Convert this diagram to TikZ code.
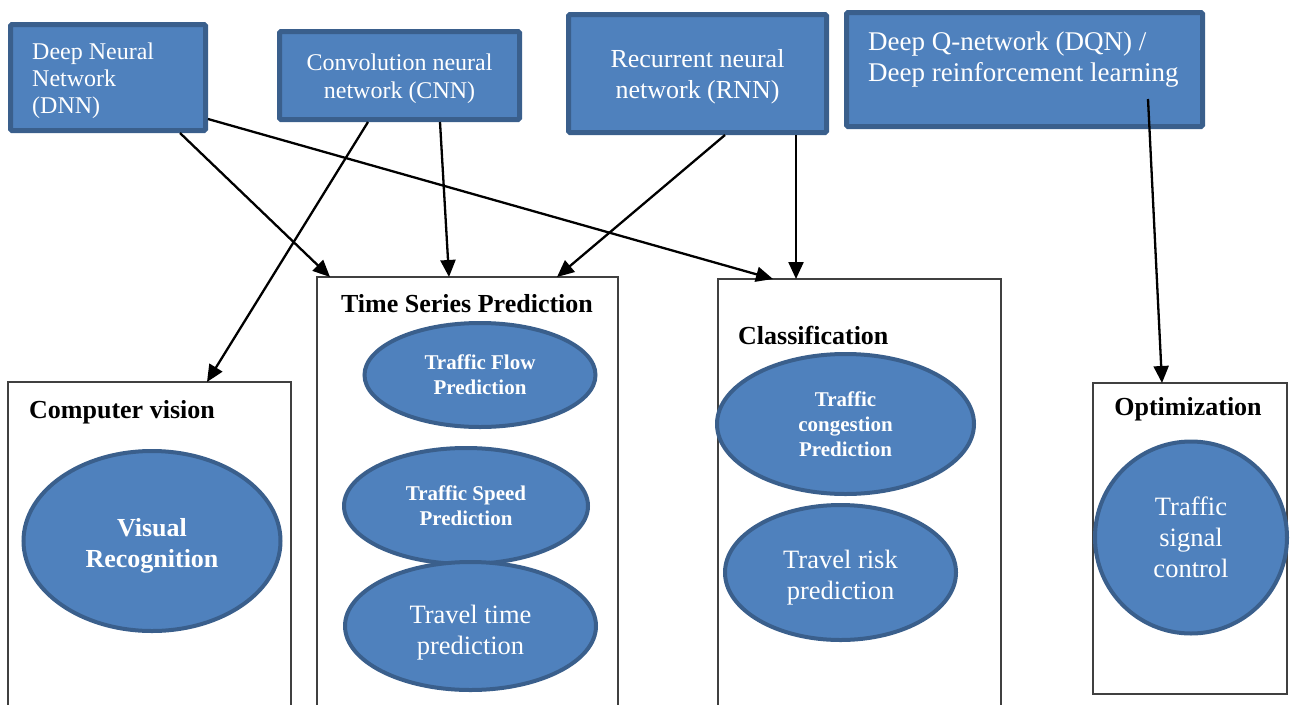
\documentclass[tikz,border=0pt]{standalone}
\usepackage{fontspec}
\setmainfont{Liberation Serif}
\usetikzlibrary{shapes.geometric,arrows.meta,calc}

\definecolor{nnfill}{HTML}{4F81BD}
\definecolor{nnedge}{HTML}{3A5F8C}
\definecolor{arealine}{HTML}{404040}

\begin{document}
\begin{tikzpicture}[x=1pt,y=-1pt,
  netbox/.style={rectangle, draw=nnedge, fill=nnfill, line width=5pt,
    rounded corners=1.5pt, text=white, inner sep=0pt, align=center},
  nettext/.style={text=white, inner sep=0pt, align=left},
  task/.style={ellipse, draw=nnedge, fill=nnfill, line width=4pt,
    text=white, inner sep=0pt, align=center},
  area/.style={rectangle, draw=arealine, line width=1.3pt, outer sep=0pt, inner sep=0pt},
  areatitle/.style={font=\fontsize{26}{30}\selectfont\bfseries, inner sep=0pt},
  boldtask/.style={font=\fontsize{21}{25}\selectfont\bfseries},
  bigboldtask/.style={font=\fontsize{26}{31}\selectfont\bfseries},
  plaintask/.style={font=\fontsize{26.5}{31}\selectfont},
  link/.style={line width=2.3pt, -{Triangle[length=17pt,width=15pt]}}
]
\useasboundingbox (0,0) rectangle (1295,704);

% application areas (open at the bottom of the page)
\node[area, minimum width=283pt, minimum height=340pt] (cv)  at (149.5,552) {};
\node[area, minimum width=301pt, minimum height=440pt] (ts)  at (467.5,497) {};
\node[area, minimum width=283pt, minimum height=440pt] (cls) at (859.5,499) {};
\node[area, minimum width=194pt, minimum height=311pt] (opt) at (1190,538.5) {};

\node[areatitle, anchor=base west] (cvtitle)  at (29,418)   {Computer vision};
\node[areatitle, anchor=base]      (tstitle)  at (467,312)  {Time Series Prediction};
\node[areatitle, anchor=base west] (clstitle) at (738,344)  {Classification};
\node[areatitle, anchor=base]      (opttitle) at (1188,415) {Optimization};

% tasks
\node[task, bigboldtask, text height=58pt, minimum width=257pt, minimum height=180pt] (visual) at (152,541) {Visual\\Recognition};
\node[task, boldtask, minimum width=231pt, minimum height=104pt] (flow) at (480,375) {Traffic Flow\\Prediction};
\node[task, boldtask, minimum width=244pt, minimum height=116pt] (speed) at (466,506) {Traffic Speed\\Prediction};
\node[task, plaintask, text height=62pt, minimum width=251pt, minimum height=128pt] (ttime) at (470.5,626) {Travel time\\prediction};
\node[task, boldtask, minimum width=257pt, minimum height=140pt] (cong) at (845.5,424) {Traffic\\congestion\\Prediction};
\node[task, plaintask, text height=59pt, minimum width=231pt, minimum height=135pt] (risk) at (840.5,572.5) {Travel risk\\prediction};
\node[task, plaintask, circle, minimum size=192pt] (signal) at (1191,537.5) {Traffic\\signal\\control};

% network families
\node[netbox, minimum width=195pt, minimum height=106pt] (dnn) at (108,77.5) {};
\node[nettext, font=\fontsize{24}{27}\selectfont, anchor=base west] (dnntext) at (32,113)
  {Deep Neural\\Network\\(DNN)};
\node[netbox, minimum width=240pt, minimum height=88pt, text height=50.5pt,
  font=\fontsize{24}{28}\selectfont] (cnn) at (399.5,75.5)
  {Convolution neural\\network (CNN)};
\node[netbox, minimum width=258pt, minimum height=118pt, text height=55pt,
  font=\fontsize{26}{31}\selectfont] (rnn) at (697.5,73.5)
  {Recurrent neural\\network (RNN)};
\node[netbox, minimum width=356pt, minimum height=114pt] (dqn) at (1024.5,69.5) {};
\node[nettext, font=\fontsize{27}{31}\selectfont, anchor=base west] (dqntext) at (868,81)
  {Deep Q-network (DQN) /\\Deep reinforcement learning};

% which network feeds which area
\coordinate (dqnsrc) at ($(dqn.south west)+(304,-30)$);
\draw[link] ($(dnn.south west)+(172,0)$) -- ($(ts.north west)+(13,0)$);
\draw[link] ($(dnn.east)+(0,41.5)$) -- ($(cls.north west)+(55,0)$);
\draw[link] ($(cnn.south west)+(91,0)$) -- ($(cv.north west)+(199,0)$);
\draw[link] ($(cnn.south west)+(163,0)$) -- ($(ts.north west)+(132,0)$);
\draw[link] ($(rnn.south west)+(159,0)$) -- ($(ts.north west)+(240,0)$);
\draw[link] ($(rnn.south west)+(230,0)$) -- ($(cls.north west)+(78,0)$);
\draw[link] (dqnsrc) -- ($(opt.north west)+(69,0)$);
\end{tikzpicture}
\end{document}
